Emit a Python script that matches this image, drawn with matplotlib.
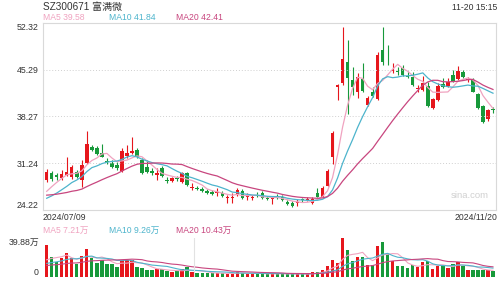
import numpy as np
import pandas as pd
import matplotlib
matplotlib.use("Agg")
from matplotlib import pyplot as plt

plt.rcParams['font.family'] = ['Liberation Sans', 'Noto Sans CJK SC', 'DejaVu Sans']

# daily candles 2024/07/09 .. 2024/11/20
open_ = [28.70, 29.80, 29.45, 29.00, 29.45, 29.19, 29.95, 28.70, 31.26, 33.72,
         33.47, 32.81, 31.55, 31.21, 30.96, 30.10, 32.32, 32.77, 33.22, 31.71,
         30.61, 30.10, 29.45, 30.46, 28.77, 28.59, 29.00, 28.44, 29.71, 27.49,
         27.49, 27.29, 27.04, 26.89, 26.74, 26.69, 25.98, 25.98, 26.54, 27.04,
         26.13, 25.98, 26.48, 26.69, 25.98, 25.76, 26.29, 26.18, 25.43, 25.18,
         25.23, 25.76, 25.71, 25.27, 26.69, 26.09, 27.84, 32.21, 42.70, 43.27,
         46.53, 43.77, 42.01, 43.88, 40.00, 42.01, 40.86, 48.29, 46.41, 45.20,
         45.13, 45.53, 44.45, 44.27, 42.45, 42.26, 42.87, 39.50, 40.76, 43.17,
         42.87, 44.52, 43.88, 45.02, 43.70, 43.77, 41.66, 39.85, 37.85, 39.33]
close = [29.95, 28.80, 29.15, 29.60, 29.90, 30.70, 29.19, 30.96, 34.12, 33.22,
         32.57, 32.21, 31.40, 30.70, 30.46, 33.11, 32.81, 33.07, 32.21, 29.80,
         29.95, 29.71, 29.71, 29.30, 28.62, 28.95, 28.85, 29.71, 27.94, 27.64,
         27.34, 27.04, 26.78, 26.59, 26.89, 26.29, 26.13, 26.13, 27.19, 26.03,
         26.29, 26.13, 26.36, 26.03, 25.83, 25.91, 26.13, 25.68, 25.08, 24.77,
         25.38, 25.61, 25.86, 25.79, 26.18, 27.45, 30.05, 35.83, 43.00, 46.89,
         44.03, 42.76, 44.27, 42.11, 41.01, 41.36, 47.54, 46.53, 46.26, 45.35,
         44.98, 44.52, 44.30, 43.02, 42.60, 43.37, 39.85, 40.86, 42.87, 42.76,
         43.52, 43.62, 45.13, 44.27, 43.85, 42.01, 39.50, 37.49, 39.25, 39.18]
high = [30.35, 30.05, 29.75, 30.20, 32.17, 31.00, 30.20, 31.71, 36.08, 33.97,
        33.87, 34.08, 32.01, 31.71, 31.41, 33.52, 33.97, 35.22, 33.52, 32.01,
        31.71, 30.51, 30.46, 30.81, 29.15, 29.15, 29.30, 29.95, 29.90, 28.24,
        27.79, 27.57, 27.34, 27.19, 27.49, 27.04, 26.44, 26.74, 27.49, 27.34,
        26.74, 26.44, 26.89, 27.04, 26.29, 26.29, 26.59, 26.44, 25.68, 25.53,
        25.83, 25.98, 26.13, 26.13, 27.49, 27.79, 30.36, 36.08, 43.10, 51.81,
        49.80, 45.78, 44.78, 46.29, 41.36, 42.76, 48.04, 51.81, 49.05, 46.33,
        45.78, 46.03, 45.13, 45.02, 43.02, 44.37, 43.47, 41.06, 43.32, 44.07,
        44.07, 45.28, 45.88, 45.28, 44.22, 44.07, 41.81, 40.00, 39.40, 39.70]
low = [28.35, 28.54, 28.70, 28.70, 29.30, 28.90, 29.00, 27.68, 31.10, 33.07,
       32.47, 32.16, 31.11, 30.51, 30.20, 29.90, 32.01, 32.69, 32.01, 29.60,
       29.75, 29.45, 28.70, 29.15, 28.25, 28.40, 28.55, 28.25, 27.79, 27.19,
       27.12, 26.89, 26.59, 26.44, 26.29, 26.13, 25.23, 25.23, 26.29, 25.83,
       25.68, 25.68, 26.13, 25.83, 25.68, 25.08, 25.83, 25.53, 24.93, 24.58,
       24.77, 25.38, 25.53, 25.08, 26.06, 25.98, 27.79, 31.11, 40.76, 43.09,
       38.65, 41.51, 41.01, 41.96, 39.85, 41.21, 40.76, 46.03, 46.03, 44.83,
       44.52, 44.37, 44.07, 42.87, 41.96, 42.11, 39.70, 39.40, 40.61, 42.57,
       42.72, 43.47, 43.77, 44.07, 43.47, 41.89, 39.40, 37.24, 37.59, 38.80]
# volume, 万 shares
volume = [32.7, 20.7, 16.0, 19.1, 24.3, 19.1, 13.2, 21.5, 28.7, 19.9,
          14.8, 17.9, 13.2, 13.2, 10.0, 17.5, 17.9, 17.9, 10.4, 9.6,
          7.2, 7.2, 8.8, 8.0, 6.0, 5.2, 6.0, 8.0, 10.0, 5.2,
          4.8, 4.0, 4.0, 4.8, 4.0, 4.0, 3.6, 3.6, 5.6, 4.8,
          3.6, 3.4, 3.4, 4.0, 3.4, 3.4, 3.4, 4.0, 3.4, 3.4,
          3.4, 3.4, 3.0, 5.2, 5.6, 7.5, 11.6, 17.5, 14.4, 39.88,
          27.9, 16.7, 21.1, 21.1, 12.8, 12.8, 31.5, 35.5, 23.9, 16.7,
          11.6, 11.6, 9.2, 12.8, 10.4, 15.2, 16.7, 8.4, 11.6, 11.6,
          9.2, 13.6, 16.0, 11.6, 7.6, 7.6, 7.4, 7.4, 7.0, 6.0]
# sessions before 07/09, only needed for the moving averages
prev_close = [27.6, 27.4, 27.1, 27.3, 27.0, 26.8, 26.9, 26.5, 26.2, 26.0,
              25.2, 24.9, 24.6, 24.8, 25.0, 25.3, 25.9, 26.6, 27.2]
prev_vol = [9.5, 10.2, 8.8, 9.6, 11.0, 10.4, 9.2, 8.6, 9.9, 10.8,
            11.5, 9.4, 8.9, 10.1, 12.3, 13.5, 11.8, 14.6, 16.2]

price_ticks = [24.22, 31.24, 38.27, 45.29, 52.32]
ma_cols = {5: '#f0a3c0', 10: '#4db4cc', 20: '#c8467f'}
RED = '#e6161c'
GREEN = '#17993a'

n = len(close)
x = np.arange(n)
o = np.array(open_); c = np.array(close)
up = c >= o
col = np.where(up, RED, GREEN)

cs = pd.Series(prev_close + close)
vs = pd.Series(prev_vol + volume)
k = len(prev_close)

fig = plt.figure(figsize=(5, 2.81), dpi=100)
W, H = 500, 281

def px(l, t, r, b):
    return [l / W, 1 - b / H, (r - l) / W, (b - t) / H]

ax = fig.add_axes(px(43, 23.3, 496, 209.7))
axv = fig.add_axes(px(43, 238, 496, 277.3))

for a in (ax, axv):
    a.set_xlim(-0.74, 89.6)
    a.tick_params(length=0, labelsize=6.3, labelcolor='#333333', pad=3)
    a.set_xticks([])

for s in ax.spines.values():
    s.set_color('#d9d9d9')
    s.set_linewidth(0.8)

ax.set_ylim(24.22, 52.32)
ax.set_yticks(price_ticks)
ax.set_yticklabels(['%.2f' % t for t in price_ticks])
for t in price_ticks[1:-1]:
    ax.axhline(t, color='#d0d0d0', lw=0.7, ls=(0, (1, 2)))

# candles
ax.vlines(x, low, high, colors=col, lw=0.8)
body = np.maximum(np.abs(c - o), 0.1)
ax.bar(x, body, bottom=np.minimum(o, c), width=0.68, color=col, lw=0)

for w, cl in ma_cols.items():
    ma = cs.rolling(w).mean().values[k:]
    ax.plot(x, ma, color=cl, lw=0.9)

# volume
for s in axv.spines.values():
    s.set_visible(False)
axv.set_ylim(0, 39.88)
axv.bar(x, volume, width=0.66, color=col, lw=0)
for w, cl in ma_cols.items():
    ma = vs.rolling(w).mean().values[k:]
    axv.plot(x, ma, color=cl, lw=0.8)
axv.set_yticks([0, 39.88])
axv.set_yticklabels(['0', '39.88万'])
axv.axvline(29.3, color='#e2e2e2', lw=0.8)

fig.canvas.draw()
ax.get_yticklabels()[0].set_va('bottom')
ax.get_yticklabels()[-1].set_va('top')
axv.get_yticklabels()[0].set_va('bottom')
axv.get_yticklabels()[-1].set_va('top')

def txt(xp, yp, s, **kw):
    kw.setdefault('fontsize', 6.2)
    kw.setdefault('va', 'center')
    fig.text(xp / W, 1 - yp / H, s, **kw)

txt(43, 7, 'SZ300671 富满微', color='#333333', fontsize=7.2)
txt(497, 7, '11-20 15:15', color='#333333', ha='right')
txt(43, 17, 'MA5 39.58', color=ma_cols[5])
txt(109, 17, 'MA10 41.84', color=ma_cols[10])
txt(176, 17, 'MA20 42.41', color=ma_cols[20])
txt(43, 217, '2024/07/09', color='#333333')
txt(497, 217, '2024/11/20', color='#333333', ha='right')
txt(470, 195, 'sina.com', color='#d0d0d0', ha='center', fontsize=6.8)
txt(43, 230, 'MA5 7.21万', color=ma_cols[5])
txt(109, 230, 'MA10 9.26万', color=ma_cols[10])
txt(176, 230, 'MA20 10.43万', color=ma_cols[20])

fig.savefig('out.png', dpi=100)
